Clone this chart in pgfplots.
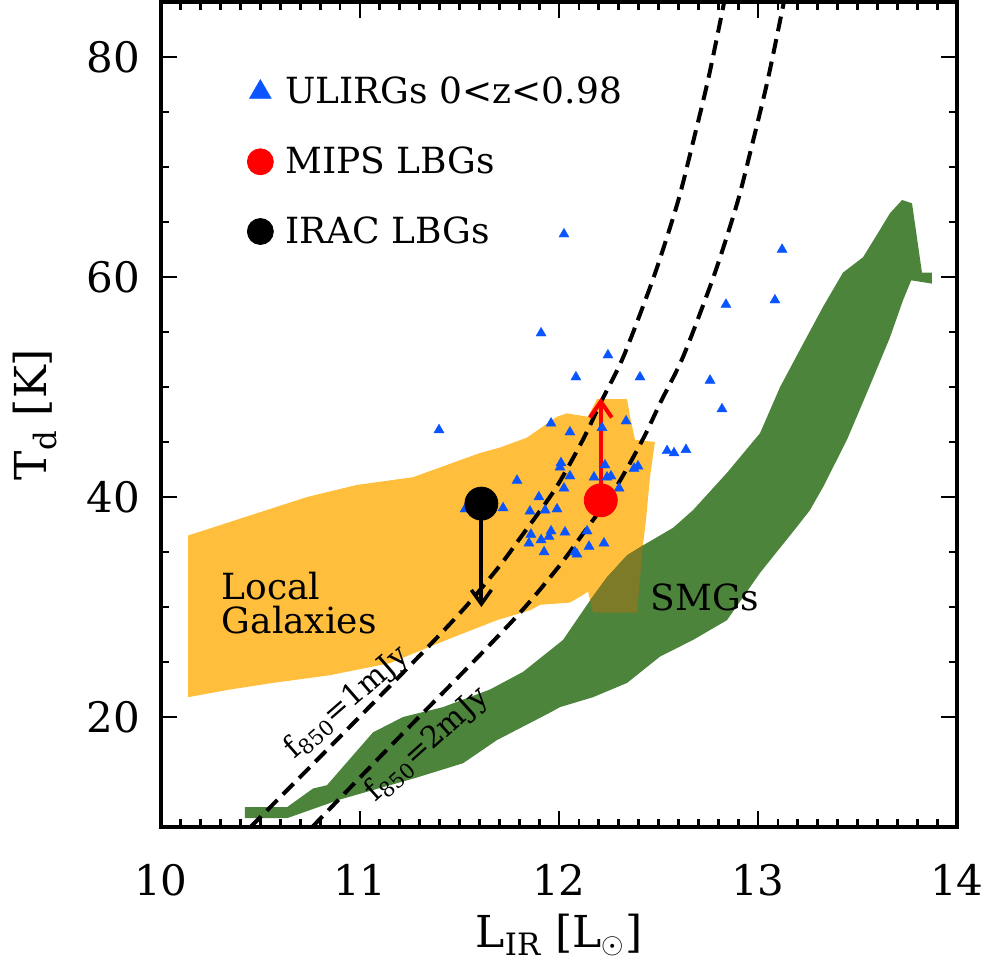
\documentclass[border=0pt]{standalone}
\usepackage{fontspec}
\setmainfont{DejaVu Serif}
\usepackage{pgfplots}
\pgfplotsset{compat=1.18}
\usetikzlibrary{arrows.meta}
\definecolor{lgorange}{RGB}{255,190,60}
\definecolor{smggreen}{RGB}{76,132,60}
\definecolor{olive}{RGB}{125,122,40}
\definecolor{ulirgblue}{RGB}{10,85,255}
\begin{document}
\begin{tikzpicture}
\begin{axis}[
  scale only axis,
  width=398pt, height=412.5pt,
  xmin=10, xmax=14, ymin=10, ymax=85,
  xtick={10,11,12,13,14}, ytick={20,40,60,80},
  minor x tick num=9, minor y tick num=3,
  tick align=inside,
  major tick length=8pt, minor tick length=4pt,
  every tick/.style={black, line width=1.4pt},
  axis line style={line width=1.6pt},
  /pgf/number format/assume math mode=true,
  tick label style={font=\fontsize{21pt}{21pt}\selectfont},
  xticklabel style={anchor=base, yshift=-34pt},
  yticklabel style={anchor=east, xshift=-7pt},
  every axis x label/.style={at={(axis description cs:0.5,0)}, anchor=base, yshift=-60pt},
  every axis y label/.style={at={(axis description cs:0,0.5)}, xshift=-63pt, rotate=90, anchor=center},
  label style={font=\fontsize{22pt}{22pt}\selectfont},
  xlabel={L\textsubscript{IR} [L$_\odot$]},
  ylabel={T\textsubscript{d} [K]},
  legend style={at={(axis cs:10.432,78.2)}, anchor=north west, draw=none, fill=none,
     font=\fontsize{18pt}{18pt}\selectfont, row sep=20pt, column sep=6pt, inner sep=0pt,
     nodes={inner sep=0pt}},
  legend cell align=left,
  legend image code/.code={\draw[only marks] plot coordinates {(0pt,0pt)};},
]
% Local galaxies region
\addplot[fill=lgorange, draw=none, forget plot] coordinates {
(10.136,36.5) (10.734,40.0) (10.985,41.1) (11.266,41.8) (11.603,44.0) (11.704,44.5)
(11.839,45.4) (11.990,47.3) (12.040,47.6) (12.146,47.3) (12.191,48.9) (12.342,48.9)
(12.357,47.3) (12.382,45.2) (12.482,45.0) (12.457,41.8) (12.437,37.9) (12.422,35.6)
(12.392,29.5) (12.171,29.5) (12.146,31.4) (12.121,31.1) (12.055,30.4) (11.905,30.2)
(11.854,29.7) (11.688,28.8) (11.518,27.6) (11.352,26.4) (11.151,24.9) (10.849,23.8)
(10.563,23.1) (10.347,22.5) (10.136,21.8)} -- cycle;
% SMG region
\addplot[fill=smggreen, draw=none, forget plot] coordinates {
(10.422,11.8) (10.633,11.8) (10.764,13.5) (10.834,13.8) (11.065,18.6) (11.216,20.0)
(11.417,20.9) (11.653,22.5) (11.819,24.1) (12.020,27.0) (12.156,30.6) (12.241,32.7)
(12.342,34.7) (12.422,35.6) (12.573,37.2) (12.673,38.8) (12.844,42.2) (13.010,45.8)
(13.111,50.0) (13.211,53.4) (13.327,57.3) (13.427,60.4) (13.528,61.8) (13.613,64.3)
(13.663,65.8) (13.724,67.0) (13.774,66.7) (13.824,60.4) (13.874,60.4) (13.874,59.4)
(13.770,59.7) (13.729,57.9) (13.663,54.5) (13.548,49.5) (13.447,45.2) (13.327,40.9)
(13.261,38.8) (13.196,37.3) (13.010,33.1) (12.844,28.8) (12.673,27.0) (12.508,25.5)
(12.342,23.1) (12.171,21.8) (12.005,20.9) (11.955,20.4) (11.688,17.9) (11.518,15.8)
(11.286,14.5) (10.899,12.5) (10.633,10.8) (10.422,10.8)} -- cycle;
% overlap
\addplot[fill=olive, draw=none, forget plot] coordinates {
(12.171,29.5) (12.392,29.5) (12.422,35.6) (12.342,34.7) (12.241,32.7) (12.156,30.6)} -- cycle;
% f850 curves
\addplot[black, line width=2pt, dash pattern=on 7.5pt off 4pt, smooth, forget plot] coordinates {
(10.45,10.0) (10.85,17.3) (11.29,25.4) (11.52,29.8) (11.70,33.7) (11.81,36.4) (11.98,40.7)
(12.12,45.2) (12.21,48.6) (12.32,52.6) (12.44,58.2) (12.51,61.8) (12.60,67.0) (12.67,72.0)
(12.75,78.0) (12.83,85.0)};
\addplot[black, line width=2pt, dash pattern=on 7.5pt off 4pt, smooth, forget plot] coordinates {
(10.76,10.0) (11.15,17.3) (11.59,25.4) (11.82,29.8) (12.00,33.7) (12.11,36.4) (12.28,40.7)
(12.42,45.2) (12.51,48.6) (12.62,52.6) (12.74,58.2) (12.81,61.8) (12.90,67.0) (12.97,72.0)
(13.05,78.0) (13.13,85.0)};
% arrows
\addplot[red, line width=2.2pt, -{Straight Barb[length=8pt, width=11pt, line width=2pt]}, forget plot]
  coordinates {(12.21,39.7) (12.21,49.0)};
\addplot[black, line width=2pt, -{Straight Barb[length=7pt, width=10pt, line width=1.8pt]}, forget plot]
  coordinates {(11.61,39.4) (11.61,30.0)};
% ULIRGs
\addplot[only marks, mark=triangle*, mark size=2.9pt, color=ulirgblue,
  mark options={fill=ulirgblue, draw=ulirgblue, line width=0.2pt},
  legend image post style={mark size=6.3pt}] coordinates {
(11.397,46.1) (11.528,38.9) (11.719,39.0) (11.789,41.5) (11.899,40.0) (11.854,38.7)
(11.930,38.8) (11.990,38.9) (12.010,43.1) (12.005,42.7) (12.055,41.9) (12.025,40.8)
(12.176,41.8) (12.231,42.9) (12.241,41.8) (12.261,41.9) (12.302,40.8) (12.377,42.6)
(12.397,42.8) (12.543,44.2) (12.578,44.0) (12.638,44.3) (11.960,46.7) (12.055,45.9)
(12.216,46.3) (12.337,46.9) (12.085,50.9) (12.407,50.9) (12.246,52.9) (11.910,54.9)
(12.025,63.9) (12.759,50.6) (12.819,48.0) (12.839,57.5) (13.121,62.5) (13.085,57.9)
(11.859,36.6) (11.960,36.9) (11.950,36.4) (12.030,36.8) (12.141,36.9) (11.849,35.8)
(11.910,36.1) (11.925,35.0) (12.151,35.5) (12.226,35.8) (12.080,35.0) (12.090,34.8)};
\addlegendentry{ULIRGs 0<z<0.98}
\addplot[only marks, mark=*, mark size=8.25pt, color=red, mark options={fill=red, draw=red},
  legend image post style={mark size=6.5pt}] coordinates {(12.21,39.7)};
\addlegendentry{MIPS LBGs}
\addplot[only marks, mark=*, mark size=8.25pt, color=black, mark options={fill=black},
  legend image post style={mark size=6.5pt}] coordinates {(11.61,39.4)};
\addlegendentry{IRAC LBGs}
% labels
\node[anchor=west, align=left, font=\fontsize{18pt}{17pt}\selectfont] at (axis cs:10.27,30.4) {Local\\Galaxies};
\node[font=\fontsize{18pt}{18pt}\selectfont] at (axis cs:12.734,30.9) {SMGs};
\node[rotate=41, font=\fontsize{15pt}{15pt}\selectfont] at (axis cs:10.935,21.3) {f$_{\mathrm{850}}$=1mJy};
\node[rotate=42, font=\fontsize{15pt}{15pt}\selectfont] at (axis cs:11.337,17.45) {f$_{\mathrm{850}}$=2mJy};
\end{axis}
\pgfresetboundingbox
\path[use as bounding box] (current axis.south west) ++(-80.5pt,-69.5pt) rectangle ++(492.5pt,483pt);
\end{tikzpicture}
\end{document}
